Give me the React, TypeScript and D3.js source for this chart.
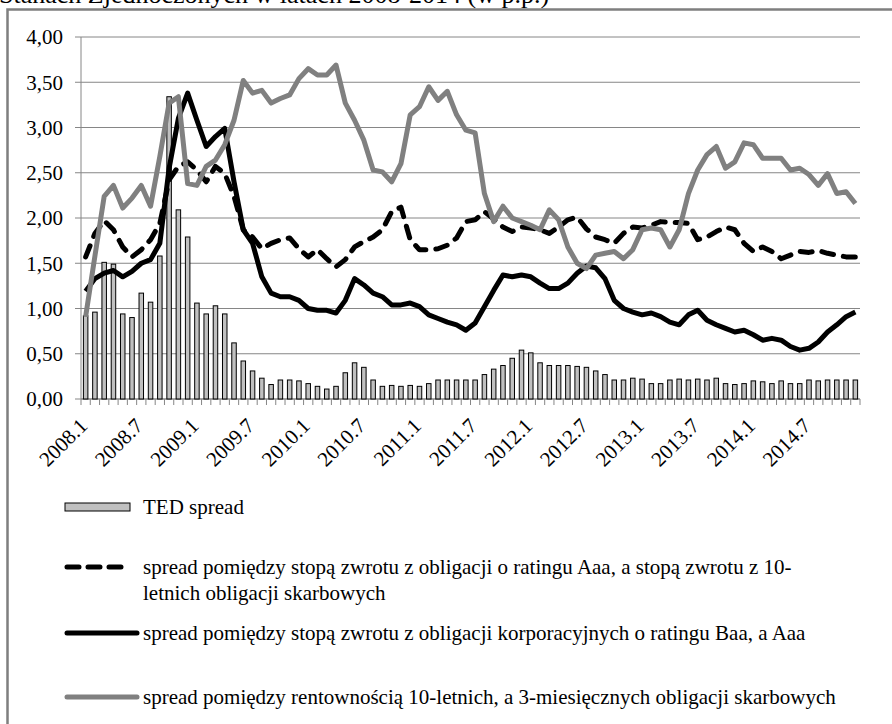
import React from "react";
import * as d3 from "d3";

const years = [2008, 2009, 2010, 2011, 2012, 2013, 2014];
const months = [1, 2, 3, 4, 5, 6, 7, 8, 9, 10, 11, 12];
const categories: string[] = [];
years.forEach((y) => months.forEach((m) => categories.push(`${y}.${m}`)));

const tickLabelIndexes = [0, 6, 12, 18, 24, 30, 36, 42, 48, 54, 60, 66, 72, 78];
const yTicks = [0, 0.5, 1, 1.5, 2, 2.5, 3, 3.5, 4];

const tedSpread = [
  0.92, 0.96, 1.51, 1.49, 0.94, 0.9, 1.17, 1.07, 1.58, 3.34, 2.09, 1.79,
  1.06, 0.94, 1.03, 0.94, 0.62, 0.42, 0.31, 0.23, 0.16, 0.21, 0.21, 0.2,
  0.17, 0.14, 0.11, 0.14, 0.29, 0.4, 0.35, 0.21, 0.14, 0.15, 0.14, 0.15,
  0.14, 0.17, 0.21, 0.21, 0.21, 0.21, 0.21, 0.27, 0.33, 0.37, 0.45, 0.54,
  0.51, 0.4, 0.37, 0.37, 0.37, 0.36, 0.35, 0.31, 0.27, 0.21, 0.21, 0.23,
  0.22, 0.17, 0.17, 0.21, 0.22, 0.21, 0.22, 0.21, 0.23, 0.17, 0.16, 0.17,
  0.2, 0.19, 0.17, 0.2, 0.17, 0.17, 0.21, 0.2, 0.21, 0.21, 0.21, 0.21,
];

const aaaVsTreasury = [
  1.57, 1.83, 1.97, 1.87, 1.68, 1.57, 1.65, 1.76, 1.94, 2.42, 2.57, 2.62,
  2.53, 2.4, 2.57, 2.49, 2.24, 1.87, 1.79, 1.66, 1.72, 1.76, 1.78, 1.66,
  1.57, 1.65, 1.55, 1.46, 1.54, 1.68, 1.74, 1.79, 1.87, 2.07, 2.12, 1.76,
  1.65, 1.65, 1.66, 1.7, 1.78, 1.96, 1.98, 2.07, 1.99, 1.9, 1.85, 1.9,
  1.89, 1.87, 1.83, 1.9, 1.98, 2.01, 1.88, 1.79, 1.76, 1.72, 1.83, 1.9,
  1.89, 1.92, 1.96, 1.95, 1.95, 1.94, 1.76, 1.79, 1.85, 1.9, 1.87, 1.72,
  1.63, 1.68, 1.63, 1.55, 1.59, 1.63, 1.62, 1.64, 1.61, 1.59, 1.57, 1.57,
];

const baaVsAaa = [
  1.19, 1.33, 1.39, 1.42, 1.35, 1.41, 1.5, 1.54, 1.72, 2.55, 3.1, 3.38,
  3.08, 2.79, 2.9, 2.99, 2.4, 1.87, 1.72, 1.35, 1.17, 1.13, 1.13, 1.09,
  1.0, 0.98, 0.98, 0.95, 1.09, 1.33, 1.26, 1.17, 1.13, 1.04, 1.04, 1.06,
  1.02, 0.93, 0.89, 0.85, 0.82, 0.76, 0.84, 1.02, 1.2, 1.37, 1.35, 1.37,
  1.35, 1.28, 1.22, 1.22, 1.28, 1.39, 1.47, 1.45, 1.33, 1.09, 1.0, 0.96,
  0.93, 0.95, 0.91, 0.85, 0.82, 0.93, 0.98, 0.87, 0.82, 0.78, 0.74, 0.76,
  0.71, 0.65, 0.67, 0.65, 0.58, 0.54, 0.56, 0.63, 0.74, 0.82, 0.91, 0.96,
];

const tenYearVs3Month = [
  0.91, 1.58, 2.24, 2.36, 2.11, 2.22, 2.36, 2.13, 2.68, 3.27, 3.34, 2.38,
  2.36, 2.57, 2.64, 2.81, 3.08, 3.52, 3.38, 3.41, 3.27, 3.32, 3.36, 3.54,
  3.65, 3.58, 3.58, 3.69, 3.27, 3.08, 2.86, 2.53, 2.51, 2.4, 2.6, 3.14,
  3.23, 3.45, 3.3, 3.4, 3.14, 2.97, 2.94, 2.27, 1.96, 2.13, 2.0, 1.96,
  1.92, 1.87, 2.09, 1.98, 1.68, 1.5, 1.44, 1.59, 1.61, 1.63, 1.55, 1.65,
  1.87, 1.89, 1.87, 1.68, 1.87, 2.27, 2.53, 2.7, 2.79, 2.55, 2.62, 2.83,
  2.81, 2.66, 2.66, 2.66, 2.53, 2.55, 2.48, 2.36, 2.49, 2.27, 2.29, 2.16,
];

const titleText = "Stanach Zjednoczonych w latach 2008-2014 (w p.p.)";
const legendTed = "TED spread";
const legendAaa1 = "spread pomiędzy stopą zwrotu z obligacji o ratingu Aaa, a stopą zwrotu z 10-";
const legendAaa2 = "letnich obligacji skarbowych";
const legendBaa = "spread pomiędzy stopą zwrotu z obligacji korporacyjnych o ratingu Baa, a Aaa";
const legendCurve = "spread pomiędzy rentownością 10-letnich, a 3-miesięcznych obligacji skarbowych";

const FONT = "'Liberation Serif', 'Times New Roman', 'DejaVu Serif', serif";
const GRAY_LINE = "#808080";

export default function App() {
  const W = 892;
  const H = 724;
  const left = 81;
  const right = 860;
  const top = 37;
  const bottom = 399;

  const x = d3.scaleBand<string>().domain(categories).range([left, right]).padding(0);
  const y = d3.scaleLinear().domain([0, 4]).range([bottom, top]);
  const cx = (i: number) => (x(categories[i]) as number) + x.bandwidth() / 2;
  const line = d3
    .line<number>()
    .x((_, i) => cx(i))
    .y((d) => y(d));
  const fmt = (v: number) => v.toFixed(2).replace(".", ",");
  const barW = 4.5;
  const ts = { fontFamily: FONT };

  return (
    <svg
      width={W}
      height={H}
      style={{ position: "fixed", left: 0, top: 0, background: "#fff", fontFamily: FONT }}
    >
      <rect x={0} y={0} width={W} height={H} fill="#fff" />
      <text x={-1} y={2.5} fontSize={26} fill="#000" style={ts}>
        {titleText}
      </text>
      <rect x={7.5} y={9.5} width={1000} height={1000} fill="none" stroke="#7f7f7f" strokeWidth={2.5} />

      {/* gridlines */}
      {yTicks.slice(1).map((t) => (
        <line key={t} x1={left} x2={right} y1={y(t)} y2={y(t)} stroke="#868686" strokeWidth={1} />
      ))}
      {/* y ticks and labels */}
      {yTicks.map((t) => (
        <g key={"yl" + t}>
          <line x1={left - 6} x2={left} y1={y(t)} y2={y(t)} stroke="#868686" strokeWidth={1} />
          <text x={63} y={y(t)} dy="0.35em" textAnchor="end" fontSize={21} fill="#000" style={ts}>
            {fmt(t)}
          </text>
        </g>
      ))}
      {/* axes */}
      <line x1={left} x2={left} y1={top} y2={bottom} stroke="#868686" strokeWidth={1} />
      <line x1={left} x2={right} y1={bottom} y2={bottom} stroke="#868686" strokeWidth={1.5} />
      {categories.map((c) => (
        <line
          key={"xt" + c}
          x1={x(c) as number}
          x2={x(c) as number}
          y1={bottom}
          y2={bottom + 6}
          stroke="#868686"
          strokeWidth={1}
        />
      ))}
      <line x1={right} x2={right} y1={bottom} y2={bottom + 6} stroke="#868686" strokeWidth={1} />
      {tickLabelIndexes.map((i) => (
        <text
          key={"xl" + i}
          transform={`translate(${cx(i) + 3},${427}) rotate(-45)`}
          textAnchor="end"
          fontSize={21}
          fill="#000"
          style={ts}
        >
          {categories[i]}
        </text>
      ))}

      {/* bars */}
      {tedSpread.map((v, i) => (
        <rect
          key={"b" + i}
          x={cx(i) - barW / 2}
          y={y(v)}
          width={barW}
          height={bottom - y(v)}
          fill="#c0c0c0"
          stroke="#000"
          strokeWidth={1}
        />
      ))}

      {/* lines */}
      <path d={line(aaaVsTreasury) || ""} fill="none" stroke="#000" strokeWidth={5} strokeDasharray="12 10" strokeLinecap="round" strokeLinejoin="round" />
      <path d={line(baaVsAaa) || ""} fill="none" stroke="#000" strokeWidth={5} strokeLinejoin="round" />
      <path d={line(tenYearVs3Month) || ""} fill="none" stroke={GRAY_LINE} strokeWidth={5} strokeLinejoin="round" />

      {/* legend */}
      <g fontSize={21} fill="#000" style={ts}>
        <rect x={65} y={503} width={65} height={8} fill="#c0c0c0" stroke="#000" strokeWidth={1} />
        <text x={143} y={514}>{legendTed}</text>

        <line x1={67} x2={125} y1={567} y2={567} stroke="#000" strokeWidth={5} strokeDasharray="12 9" strokeLinecap="round" />
        <text x={143} y={574}>{legendAaa1}</text>
        <text x={143} y={600}>{legendAaa2}</text>

        <line x1={67} x2={137} y1={633} y2={633} stroke="#000" strokeWidth={5} strokeLinecap="round" />
        <text x={143} y={640}>{legendBaa}</text>

        <line x1={67} x2={137} y1={697} y2={697} stroke={GRAY_LINE} strokeWidth={5} strokeLinecap="round" />
        <text x={143} y={704}>{legendCurve}</text>
      </g>
    </svg>
  );
}
